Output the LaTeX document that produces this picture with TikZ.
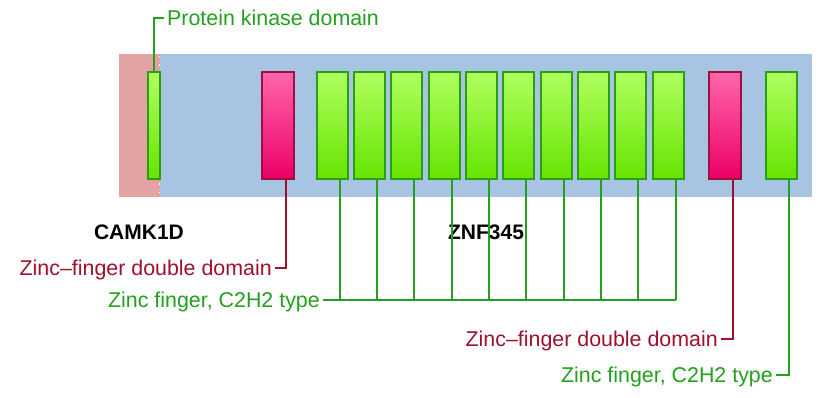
\documentclass[tikz,border=0pt]{standalone}
\usepackage{fontspec}
\setmainfont{Liberation Sans}
\usetikzlibrary{calc}
\definecolor{bgblue}{HTML}{A8C4E3}
\definecolor{bgpink}{HTML}{E4A3A3}
\definecolor{gtop}{HTML}{B0FF60}
\definecolor{gbot}{HTML}{66E400}
\definecolor{gedge}{HTML}{2A9E14}
\definecolor{ptop}{HTML}{FF66AA}
\definecolor{pbot}{HTML}{EC0066}
\definecolor{pedge}{HTML}{9E1040}
\definecolor{gtext}{HTML}{22A01E}
\definecolor{rtext}{HTML}{A0102E}
\tikzset{
  gbox/.style={rectangle, draw=gedge, line width=1.6pt, top color=gtop, bottom color=gbot, minimum height=107pt, inner sep=0pt, anchor=north west},
  pbox/.style={rectangle, draw=pedge, line width=1.6pt, top color=ptop, bottom color=pbot, minimum height=107pt, inner sep=0pt, anchor=north west},
  lab/.style={font=\fontsize{21.4}{25}\selectfont, inner sep=0pt, anchor=base east},
  glead/.style={draw=gtext, line width=1.8pt},
  rlead/.style={draw=rtext, line width=1.8pt},
}
\begin{document}
\begin{tikzpicture}[x=1pt,y=-1pt]
\useasboundingbox (0,0) rectangle (820,398);
% backgrounds
\fill[bgpink] (119,54) rectangle (160,197);
\fill[bgblue] (160,54) rectangle (812,197);
\draw[white, line width=1.2pt, dash pattern=on 1.5pt off 7pt] (159.5,56) -- (159.5,197);
% boxes
\node[gbox, minimum width=12pt] (k) at (147,71) {};
\node[pbox, minimum width=32pt] (p1) at (261,71) {};
\foreach \i/\x in {1/316,2/353,3/390,4/428,5/465,6/502,7/540,8/577,9/614,10/652}{
  \node[gbox, minimum width=31pt] (g\i) at (\x,71) {};
  \coordinate (v\i) at ($(g\i.south)+(8,0)$);
}
\node[pbox, minimum width=32pt] (p2) at (708,71) {};
\node[gbox, minimum width=31pt] (g11) at (765,71) {};
% protein kinase label
\node[lab, anchor=base west, text=gtext] (lk) at (167,26) {Protein kinase domain};
\draw[glead] (k.north) |- ([xshift=-3pt]lk.west |- 0,18);
% gene names
\node[font=\bfseries\fontsize{21}{25}\selectfont, inner sep=0pt, anchor=base] (camk) at (139,240) {CAMK1D};
\node[font=\bfseries\fontsize{21}{25}\selectfont, inner sep=0pt, anchor=base] (znf) at (486,240) {ZNF345};
% red label 1
\node[lab, text=rtext] (r1) at (272,275.5) {Zinc\textendash finger double domain};
\coordinate (r1c) at ($(p1.south)+(8,0)$);
\draw[rlead] (r1c) |- ([xshift=3pt]r1.east |- 0,268);
% green label 1
\node[lab, text=gtext] (gl1) at (320,307.5) {Zinc finger, C2H2 type};
\coordinate (gh) at ([xshift=3pt]gl1.east |- 0,300);
\draw[glead] (gh) -- (v10 |- gh);
\foreach \i in {1,...,10}{
  \draw[glead] (v\i) -- (v\i |- gh);
}
% red label 2
\node[lab, text=rtext] (r2) at (718,346.5) {Zinc\textendash finger double domain};
\coordinate (r2c) at ($(p2.south)+(8,0)$);
\draw[rlead] (r2c) |- ([xshift=3pt]r2.east |- 0,339);
% green label 2
\node[lab, text=gtext] (gl2) at (773,382.5) {Zinc finger, C2H2 type};
\coordinate (g2c) at ($(g11.south)+(8,0)$);
\draw[glead] (g2c) |- ([xshift=3pt]gl2.east |- 0,375);
\end{tikzpicture}
\end{document}
